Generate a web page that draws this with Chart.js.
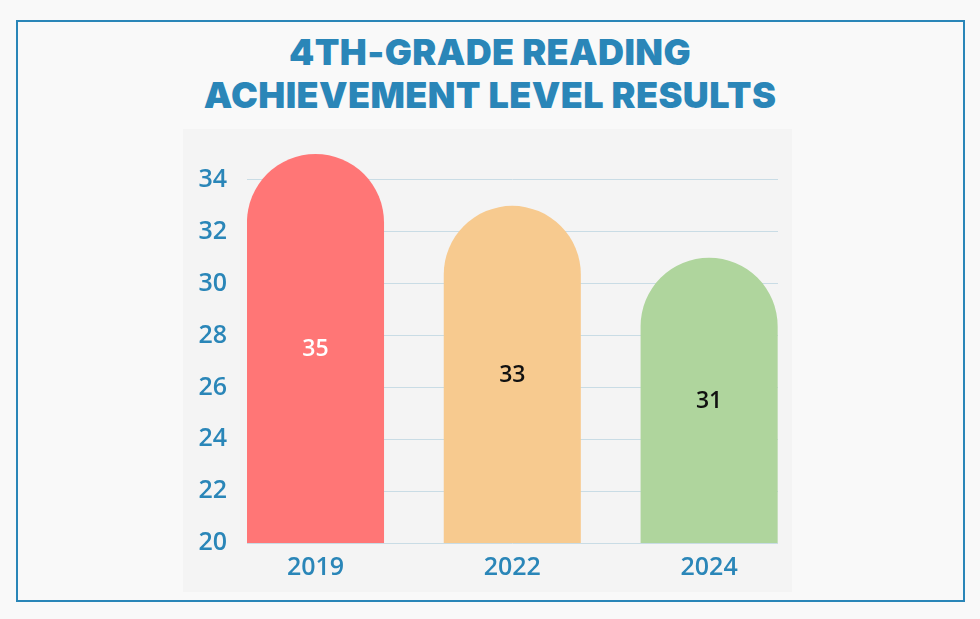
<!DOCTYPE html>
<html>
<head>
<meta charset="utf-8">
<script src="https://cdn.jsdelivr.net/npm/chart.js@4.4.1/dist/chart.umd.min.js"></script>
<style>
  html, body { margin: 0; padding: 0; }
  body { width: 980px; height: 619px; position: relative; overflow: hidden; background: #f9f9f9; font-family: 'Open Sans', sans-serif; }
  .frame { position: absolute; left: 16px; top: 20px; width: 945px; height: 578px; border: 2.5px solid #2a86b8; }
  .panel { position: absolute; left: 183px; top: 129px; width: 609px; height: 463px; background: #f4f4f4; }
  .title { position: absolute; left: 0; top: 31px; width: 980px; text-align: center; color: #2a86b8;
           font-family: 'Inter', sans-serif; font-weight: 900; font-size: 36px; line-height: 43px; letter-spacing: 0.4px; }
  #wrap { position: absolute; left: 0; top: 0; width: 980px; height: 619px; }
</style>
</head>
<body>
<div class="frame"></div>
<div class="panel"></div>
<div class="title">4TH-GRADE READING<br>ACHIEVEMENT LEVEL RESULTS</div>
<div id="wrap"><canvas id="chart"></canvas></div>
<script>
const years = ['2019', '2022', '2024'];
const scores = [35, 33, 31];
const barColors = ['#ff7676', '#f7ca8f', '#afd59d'];
const labelColors = ['#ffffff', '#111111', '#111111'];
const yTicks = [20, 22, 24, 26, 28, 30, 32, 34];

const blue = '#2a86b8';

// value labels in the middle of each bar
const barLabels = {
  id: 'barLabels',
  afterDatasetsDraw(chart) {
    const { ctx } = chart;
    const meta = chart.getDatasetMeta(0);
    const bottom = chart.scales.y.getPixelForValue(chart.scales.y.min);
    ctx.save();
    ctx.font = '600 23px "Open Sans", sans-serif';
    ctx.textAlign = 'center';
    ctx.textBaseline = 'middle';
    meta.data.forEach((bar, i) => {
      ctx.fillStyle = labelColors[i];
      ctx.fillText(String(scores[i]), bar.x, (bar.y + bottom) / 2 + 1);
    });
    ctx.restore();
  }
};

new Chart(document.getElementById('chart'), {
  type: 'bar',
  data: {
    datasets: [{
      data: scores.map((v, i) => ({ x: i, y: v })),
      backgroundColor: barColors,
      borderWidth: 0,
      borderRadius: { topLeft: 999, topRight: 999, bottomLeft: 0, bottomRight: 0 },
      borderSkipped: 'start',
      categoryPercentage: 0.7,
      barPercentage: 0.995
    }]
  },
  options: {
    responsive: true,
    maintainAspectRatio: false,
    animation: false,
    layout: { padding: { left: 160, right: 202, top: 154, bottom: 36 } },
    plugins: { legend: { display: false }, tooltip: { enabled: false } },
    scales: {
      x: {
        type: 'linear',
        min: -0.348,
        max: 2.35,
        offset: false,
        afterBuildTicks: s => { s.ticks = years.map((_, i) => ({ value: i })); },
        afterFit: s => { s.height = 40; },
        grid: { display: false, drawTicks: false },
        border: { display: false },
        ticks: {
          color: blue,
          padding: 10,
          font: { family: 'Open Sans', size: 25, weight: '600' },
          callback: v => years[v]
        }
      },
      y: {
        min: 20,
        max: 35,
        afterBuildTicks: s => { s.ticks = yTicks.map(v => ({ value: v })); },
        afterFit: s => { s.width = 87; },
        grid: { color: '#c9dce5', lineWidth: 1, drawTicks: false },
        border: { display: false },
        ticks: {
          color: blue,
          padding: 20,
          font: { family: 'Open Sans', size: 25, weight: '600' }
        }
      }
    }
  },
  plugins: [barLabels]
});
</script>
</body>
</html>
